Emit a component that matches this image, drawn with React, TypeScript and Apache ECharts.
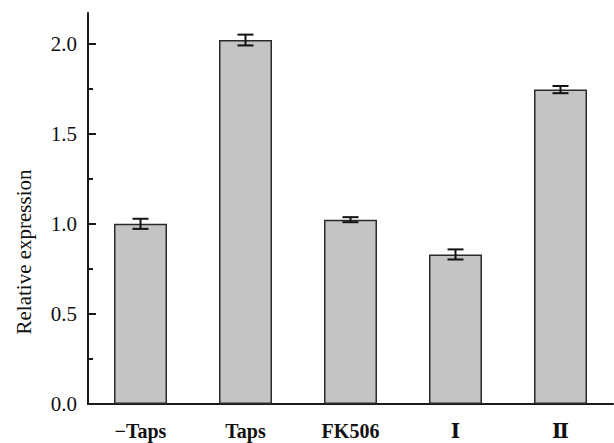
import React, { useEffect, useRef } from "react";
import * as echarts from "echarts";

const categories = ["−Taps", "Taps", "FK506", "Ⅰ", "Ⅱ"];
const values = [1.0, 2.02, 1.023, 0.83, 1.745];
const errors = [0.028, 0.03, 0.014, 0.028, 0.02];
const majorTicks = [0, 0.5, 1.0, 1.5, 2.0];
const minorTicks = [0.25, 0.75, 1.25, 1.75];
const yTitle = "Relative expression";

const FONT = "'Liberation Serif', 'Times New Roman', 'DejaVu Serif', serif";

export default function App() {
  const ref = useRef<HTMLDivElement>(null);
  useEffect(() => {
    if (!ref.current) return;
    const chart = echarts.init(ref.current, null, { renderer: "svg" });
    const errData = values.map((v, i) => [i, v - errors[i], v + errors[i]]);
    chart.setOption({
      animation: false,
      backgroundColor: "#fff",
      grid: { left: 88, top: 13, right: 1, bottom: 39, containLabel: false },
      xAxis: {
        type: "category",
        data: categories,
        axisLine: { show: true, lineStyle: { color: "#1a1a1a", width: 2 } },
        axisTick: { show: true, inside: true, alignWithLabel: true, length: 8, lineStyle: { color: "#1a1a1a", width: 2 } },
        axisLabel: { color: "#111", fontFamily: FONT, fontSize: 20, fontWeight: "bold", margin: 17 },
      },
      yAxis: [
        {
          type: "value",
          min: 0,
          max: 2.17,
          splitLine: { show: false },
          axisLine: { show: true, lineStyle: { color: "#1a1a1a", width: 2 } },
          axisTick: { show: true, inside: true, length: 8, customValues: majorTicks, lineStyle: { color: "#1a1a1a", width: 2 } },
          axisLabel: {
            customValues: majorTicks,
            formatter: (v: number) => v.toFixed(1),
            color: "#111",
            fontFamily: FONT,
            fontSize: 21,
            margin: 11,
          },
        },
        {
          type: "value",
          min: 0,
          max: 2.17,
          position: "left",
          splitLine: { show: false },
          axisLine: { show: false },
          axisTick: { show: true, inside: true, length: 5, customValues: minorTicks, lineStyle: { color: "#1a1a1a", width: 2 } },
          axisLabel: { show: false },
        },
      ],
      graphic: [
        {
          type: "text",
          x: 24,
          y: 252,
          rotation: Math.PI / 2,
          style: {
            text: yTitle,
            fontFamily: FONT,
            fontSize: 21,
            fill: "#111",
            align: "center",
            verticalAlign: "middle",
          },
        },
      ],
      series: [
        {
          type: "bar",
          data: values,
          barWidth: 53,
          itemStyle: { color: "#c4c4c4", borderColor: "#2a2a2a", borderWidth: 1.5 },
          z: 2,
        },
        {
          type: "custom",
          data: errData,
          z: 5,
          renderItem: (params: any, api: any) => {
            const x = api.value(0);
            const lo = api.coord([x, api.value(1)]);
            const hi = api.coord([x, api.value(2)]);
            const hw = 8;
            const style = { stroke: "#111", lineWidth: 2 };
            return {
              type: "group",
              children: [
                { type: "line", shape: { x1: lo[0], y1: lo[1], x2: hi[0], y2: hi[1] }, style },
                { type: "line", shape: { x1: lo[0] - hw, y1: lo[1], x2: lo[0] + hw, y2: lo[1] }, style },
                { type: "line", shape: { x1: hi[0] - hw, y1: hi[1], x2: hi[0] + hw, y2: hi[1] }, style },
              ],
            };
          },
        },
      ],
    });
    return () => chart.dispose();
  }, []);
  return <div ref={ref} style={{ width: 614, height: 443, position: "absolute", left: 0, top: 0 }} />;
}
